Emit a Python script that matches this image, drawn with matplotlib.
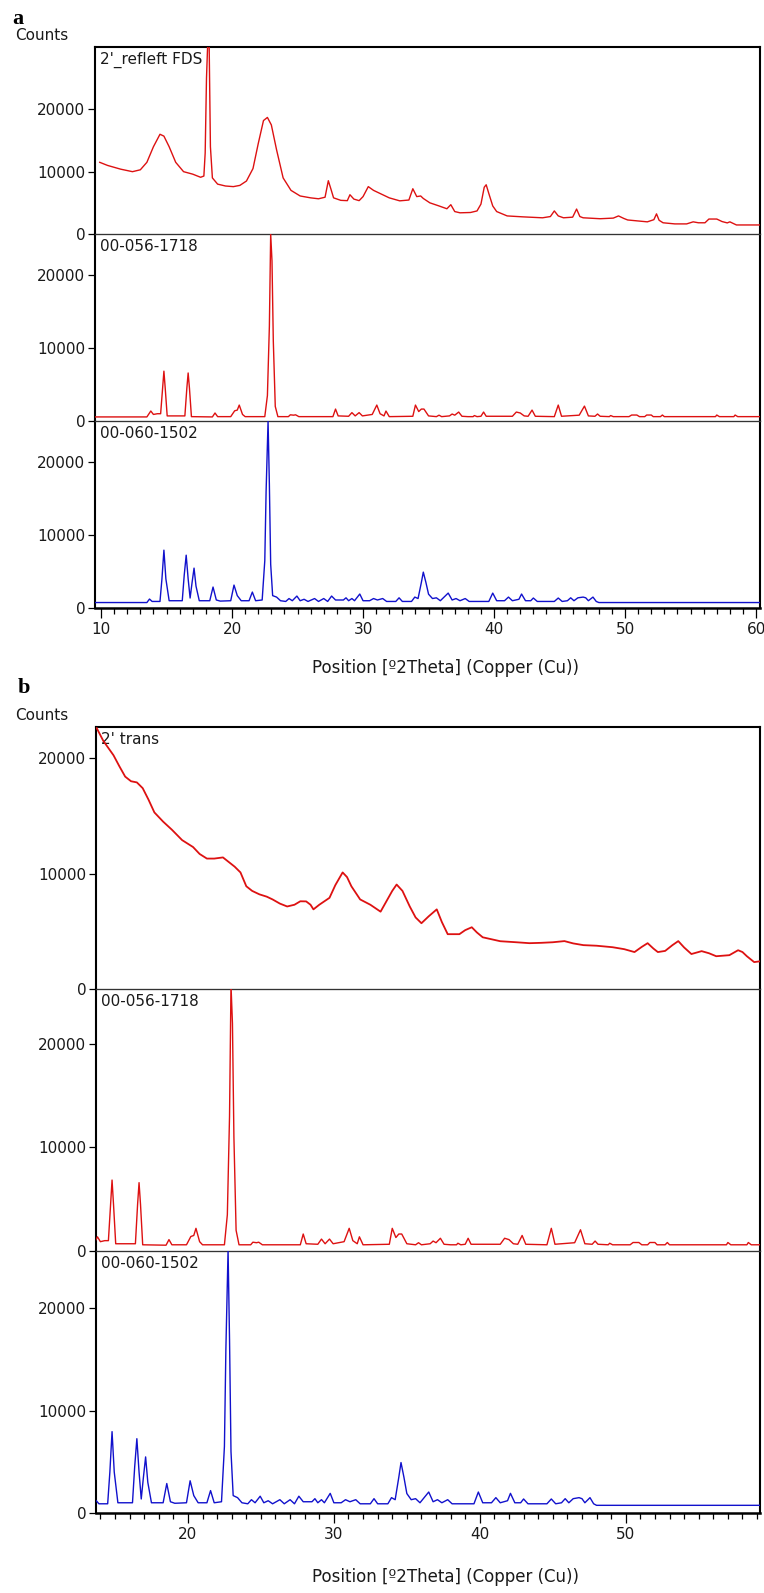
import matplotlib
matplotlib.use("Agg")
from matplotlib import pyplot as plt
from matplotlib.ticker import MultipleLocator

# sample a: 2'_refleft FDS  (2theta, counts)
refleft_x = [9.9, 10.5, 11.5, 12.4, 13.0, 13.5, 14.0, 14.5, 14.8, 15.2, 15.7, 16.3, 17.0, 17.6,
             17.85, 17.95, 18.05, 18.15, 18.25, 18.35, 18.5, 18.9, 19.5, 20.1, 20.6, 21.1, 21.6,
             22.0, 22.4, 22.7, 23.0, 23.4, 23.9, 24.5, 25.2, 26.0, 26.6, 27.1, 27.35, 27.55,
             27.75, 28.3, 28.8, 29.0, 29.3, 29.7, 30.0, 30.4, 30.8, 31.3, 32.0, 32.8, 33.5, 33.8,
             34.1, 34.4, 34.6, 35.1, 35.8, 36.4, 36.7, 37.0, 37.4, 38.2, 38.7, 39.0, 39.25, 39.4,
             39.6, 39.9, 40.2, 41.0, 42.2, 43.7, 44.3, 44.6, 44.9, 45.3, 46.0, 46.3, 46.55, 46.8,
             48.1, 49.1, 49.5, 49.9, 50.2, 51.7, 52.2, 52.4, 52.6, 52.9, 53.8, 54.7, 55.2, 55.6,
             56.1, 56.4, 57.0, 57.4, 57.8, 58.0, 58.5, 60.3]
refleft_y = [11500, 11000, 10400, 10000, 10300, 11500, 14000, 16000, 15700, 14000, 11500, 10000,
             9600, 9100, 9300, 13000, 25000, 31000, 31000, 14000, 9000, 8000, 7700, 7600, 7800,
             8500, 10500, 14500, 18200, 18700, 17500, 13500, 9000, 7000, 6100, 5800, 5650, 5900,
             8550, 7200, 5800, 5400, 5350, 6300, 5600, 5350, 6000, 7600, 7000, 6500, 5800, 5320,
             5450, 7260, 6000, 6100, 5700, 5000, 4500, 4050, 4700, 3600, 3400, 3450, 3700, 4800,
             7500, 7900, 6500, 4500, 3600, 2900, 2750, 2600, 2800, 3700, 2900, 2600, 2700, 4000,
             2800, 2600, 2450, 2550, 2900, 2500, 2250, 1950, 2300, 3230, 2200, 1800, 1620, 1620,
             1950, 1800, 1800, 2400, 2400, 2000, 1780, 1950, 1450, 1450]

# sample b: 2' trans
trans_x = [13.75, 14.2, 14.9, 15.3, 15.7, 16.1, 16.5, 16.9, 17.3, 17.7, 18.3, 18.9, 19.6, 20.35,
           20.8, 21.3, 21.8, 22.4, 22.8, 23.2, 23.6, 24.0, 24.4, 24.9, 25.4, 25.8, 26.3, 26.8,
           27.3, 27.7, 28.1, 28.4, 28.6, 29.0, 29.7, 30.1, 30.6, 30.9, 31.2, 31.8, 32.5, 33.2,
           33.6, 34.0, 34.3, 34.7, 35.2, 35.6, 36.0, 36.5, 37.05, 37.4, 37.8, 38.6, 39.0, 39.45,
           39.8, 40.2, 41.4, 42.5, 43.4, 44.2, 45.0, 45.8, 46.4, 47.1, 48.0, 49.1, 49.9, 50.6,
           51.1, 51.5, 51.9, 52.2, 52.7, 53.2, 53.6, 54.0, 54.5, 55.2, 55.7, 56.2, 57.1, 57.7,
           58.0, 58.3, 58.8, 59.2]
trans_y = [22600, 21500, 20250, 19300, 18400, 18000, 17900, 17400, 16400, 15300, 14500, 13800,
           12900, 12300, 11700, 11300, 11300, 11400, 11000, 10600, 10100, 8900, 8500, 8200, 8000,
           7760, 7400, 7150, 7300, 7600, 7590, 7300, 6900, 7300, 7900, 9000, 10100, 9700, 8900,
           7760, 7300, 6700, 7600, 8500, 9050, 8500, 7150, 6200, 5700, 6300, 6900, 5800, 4750,
           4750, 5100, 5350, 4900, 4480, 4140, 4050, 3970, 4000, 4050, 4150, 3950, 3800, 3750,
           3620, 3450, 3200, 3650, 3970, 3500, 3200, 3300, 3800, 4150, 3600, 3030, 3280, 3100,
           2840, 2930, 3360, 3200, 2840, 2330, 2400]

# reference 00-056-1718
ref56_x = [9.5, 13.5, 13.8, 14.0, 14.3, 14.55, 14.7, 14.8, 14.9, 15.05, 16.4, 16.55, 16.65, 16.75,
           16.9, 18.5, 18.7, 18.9, 19.9, 20.2, 20.4, 20.55, 20.8, 21.0, 22.5, 22.7, 22.85, 22.95,
           23.05, 23.15, 23.3, 23.5, 24.3, 24.45, 24.7, 24.85, 25.1, 27.7, 27.9, 28.1, 28.9,
           29.15, 29.4, 29.7, 29.95, 30.7, 31.05, 31.3, 31.6, 31.75, 32.0, 33.8, 34.0, 34.25,
           34.45, 34.65, 35.0, 35.6, 35.8, 36.0, 36.6, 36.8, 37.0, 37.3, 37.55, 38.0, 38.4, 38.5,
           38.7, 39.0, 39.2, 39.4, 41.4, 41.7, 42.0, 42.3, 42.6, 42.9, 43.15, 44.6, 44.9, 45.15,
           46.5, 46.9, 47.2, 47.7, 47.9, 48.1, 48.8, 48.9, 49.1, 50.3, 50.5, 50.9, 51.1, 51.5,
           51.65, 52.0, 52.15, 52.7, 52.85, 53.0, 56.9, 57.0, 57.2, 58.3, 58.4, 58.6, 60.5]
ref56_y = [560, 560, 1370, 900, 1000, 1000, 4500, 6850, 4500, 700, 700, 4500, 6600, 4500, 600,
           560, 1100, 600, 600, 1400, 1500, 2190, 900, 600, 600, 3500, 13000, 25700, 22000, 11000,
           2000, 600, 600, 850, 800, 850, 600, 600, 1640, 700, 650, 1150, 700, 1150, 700, 900,
           2190, 1000, 700, 1370, 600, 650, 2190, 1300, 1640, 1640, 700, 600, 800, 600, 700, 960,
           800, 1230, 650, 600, 600, 750, 600, 650, 1230, 650, 650, 1230, 1100, 700, 650, 1500,
           650, 600, 2190, 650, 800, 2050, 700, 650, 960, 650, 600, 750, 600, 600, 820, 820, 600,
           600, 820, 820, 600, 600, 820, 600, 600, 820, 600, 600, 820, 600, 600]

# reference 00-060-1502
ref60_x = [9.5, 13.5, 13.7, 13.9, 14.5, 14.65, 14.8, 14.95, 15.2, 16.2, 16.35, 16.5, 16.65, 16.8,
           16.95, 17.1, 17.25, 17.5, 18.3, 18.55, 18.8, 19.1, 19.9, 20.15, 20.4, 20.7, 21.3,
           21.55, 21.8, 22.3, 22.5, 22.6, 22.75, 22.85, 22.95, 23.1, 23.4, 23.7, 24.1, 24.35,
           24.6, 24.95, 25.2, 25.5, 25.8, 26.3, 26.6, 27.0, 27.3, 27.6, 27.9, 28.5, 28.7, 28.9,
           29.15, 29.35, 29.75, 30.0, 30.5, 30.8, 31.1, 31.5, 31.8, 32.5, 32.75, 33.0, 33.7,
           33.95, 34.2, 34.45, 34.6, 34.8, 35.0, 35.3, 35.6, 35.9, 36.3, 36.5, 36.8, 37.1, 37.4,
           37.8, 38.1, 39.6, 39.9, 40.2, 40.8, 41.1, 41.4, 41.9, 42.1, 42.4, 42.8, 43.0, 43.3,
           44.6, 44.9, 45.2, 45.6, 45.85, 46.1, 46.4, 46.8, 47.0, 47.2, 47.55, 47.8, 48.0, 60.5]
ref60_y = [750, 750, 1230, 900, 900, 4000, 7950, 4000, 1000, 1000, 4500, 7260, 4000, 1370, 3500,
           5480, 3000, 1000, 1000, 2880, 1100, 950, 1000, 3150, 1700, 1000, 1000, 2190, 1000,
           1100, 6500, 16000, 25700, 17000, 6000, 1700, 1500, 1000, 900, 1300, 1000, 1640, 1000,
           1200, 900, 1300, 900, 1300, 900, 1640, 1100, 1100, 1400, 1000, 1300, 1000, 1920, 1000,
           1000, 1300, 1100, 1300, 900, 900, 1400, 900, 900, 1500, 1300, 3500, 4930, 3500, 1900,
           1300, 1400, 1000, 1700, 2050, 1100, 1300, 1000, 1300, 900, 900, 2050, 1000, 1000, 1500,
           1000, 1200, 1920, 1000, 1000, 1370, 900, 900, 1370, 900, 1000, 1400, 1000, 1400, 1500,
           1400, 1000, 1500, 900, 750, 750]

W, H = 764, 1593
RED = "#dd1111"
BLUE = "#1111cc"
TXT = "#1a1a1a"

plt.rcParams["font.family"] = "DejaVu Sans"
plt.rcParams["font.size"] = 11

fig = plt.figure(figsize=(W / 100, H / 100), dpi=100)


def stack(edges, left, right, xlim, ylims, data, names, major):
    axes = []
    n = len(data)
    for i in range(n):
        top, bot = edges[i], edges[i + 1]
        ax = fig.add_axes([left / W, 1 - bot / H, (right - left) / W, (bot - top) / H])
        xs, ys, col, lw = data[i]
        ax.plot(xs, ys, color=col, lw=lw, zorder=3)
        ax.set_xlim(*xlim)
        ax.set_ylim(0, ylims[i])
        ax.set_yticks([0, 10000, 20000])
        ax.set_yticklabels(["0", "10000", "20000"], color=TXT)
        ax.tick_params(axis="y", direction="out", length=5, width=0.9, pad=2)
        ax.text(5 / (right - left), 1 - 5 / (bot - top), names[i], transform=ax.transAxes,
                ha="left", va="top", color=TXT, zorder=2)
        for s in ("left", "right"):
            ax.spines[s].set_linewidth(1.5)
            ax.spines[s].set_color("black")
        if i == 0:
            ax.spines["top"].set_linewidth(1.5)
            ax.spines["top"].set_color("black")
        else:
            ax.spines["top"].set_linewidth(0.95)
            ax.spines["top"].set_color("#333333")
        if i < n - 1:
            ax.spines["bottom"].set_visible(False)
            ax.tick_params(axis="x", bottom=False, labelbottom=False)
        else:
            ax.spines["bottom"].set_linewidth(1.8)
            ax.spines["bottom"].set_color("black")
            ax.xaxis.set_major_locator(MultipleLocator(major))
            ax.xaxis.set_minor_locator(MultipleLocator(1))
            ax.tick_params(axis="x", which="major", direction="out", length=7, width=0.9,
                           pad=3, labelcolor=TXT)
            ax.tick_params(axis="x", which="minor", direction="out", length=4, width=0.9)
        axes.append(ax)
    return axes


stack([47, 234, 421, 608], 95, 760, (9.54, 60.3), [30000, 25700, 25700],
      [(refleft_x, refleft_y, RED, 1.0), (ref56_x, ref56_y, RED, 1.0),
       (ref60_x, ref60_y, BLUE, 1.0)],
      ["2'_refleft FDS", "00-056-1718", "00-060-1502"], 10)

stack([727, 989, 1251, 1513], 96, 760, (13.7, 59.2), [22700, 25300, 25600],
      [(trans_x, trans_y, RED, 1.3), (ref56_x, ref56_y, RED, 1.0),
       (ref60_x, ref60_y, BLUE, 1.0)],
      ["2' trans", "00-056-1718", "00-060-1502"], 10)

xlabel = "Position [\u00ba2Theta] (Copper (Cu))"
fig.text(445 / W, 1 - 668 / H, xlabel, ha="center", va="center", color=TXT, fontsize=12)
fig.text(445 / W, 1 - 1577 / H, xlabel, ha="center", va="center", color=TXT, fontsize=12)

fig.text(12 / W, 1 - 24 / H, "a", family="Liberation Serif", weight="bold", fontsize=16,
         ha="left", va="baseline")
fig.text(18 / W, 1 - 693 / H, "b", family="Liberation Serif", weight="bold", fontsize=16,
         ha="left", va="baseline")
fig.text(15 / W, 1 - 35 / H, "Counts", ha="left", va="center", color=TXT)
fig.text(15 / W, 1 - 715 / H, "Counts", ha="left", va="center", color=TXT)

fig.savefig("out.png", dpi=100)
